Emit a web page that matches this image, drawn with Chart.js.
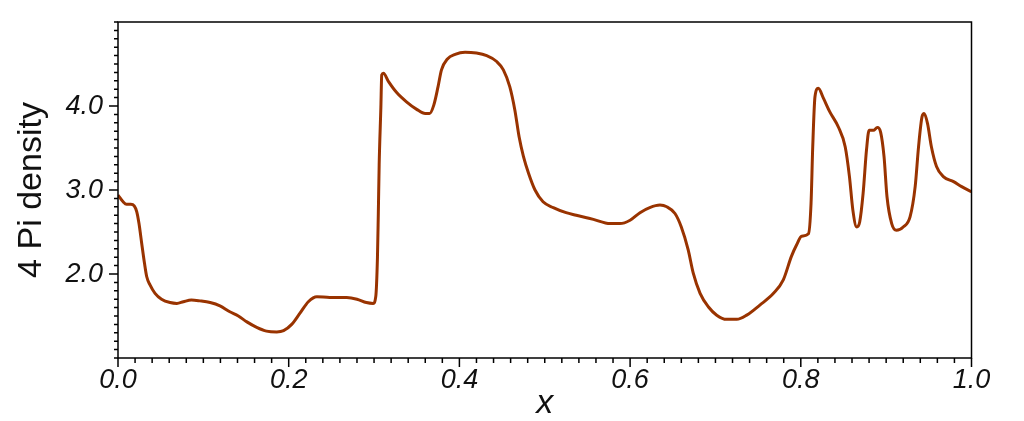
<!DOCTYPE html>
<html lang="en">
<head>
    <meta charset="UTF-8">
    <title>4 Pi density</title>
    <script src="https://cdn.jsdelivr.net/npm/chart.js"></script>
    <style>
        body {
            margin: 0;
            background-color: white;
        }

        .chart-container {
            width: 1024px;
            height: 421px;
        }
    </style>
</head>
<body>
    <div class="chart-container">
        <canvas id="densityChart"></canvas>
    </div>

    <script>
        // Values
        const xValues = [
            0.000, 0.006, 0.010, 0.015, 0.019, 0.022, 0.0246, 0.0277, 0.031, 0.0336,
            0.0375, 0.0434, 0.051, 0.061, 0.069, 0.0766, 0.086, 0.096, 0.108, 0.1195,
            0.131, 0.141, 0.151, 0.1625, 0.174, 0.186, 0.194, 0.2035, 0.213, 0.223,
            0.233, 0.248, 0.268, 0.280, 0.291, 0.299, 0.302, 0.304, 0.305, 0.306,
            0.308, 0.309, 0.311, 0.317, 0.3265, 0.338, 0.350, 0.360, 0.365, 0.370,
            0.375, 0.379, 0.386, 0.395, 0.4066, 0.420, 0.432, 0.4437, 0.4515, 0.459,
            0.465, 0.470, 0.475, 0.481, 0.4886, 0.498, 0.510, 0.525, 0.537, 0.549,
            0.557, 0.5765, 0.588, 0.600, 0.6116, 0.623, 0.635, 0.643, 0.6526, 0.660,
            0.668, 0.674, 0.682, 0.6916, 0.7015, 0.713, 0.725, 0.7366, 0.752, 0.768,
            0.7795, 0.789, 0.795, 0.801, 0.809, 0.812, 0.814, 0.8166, 0.8205, 0.8266,
            0.834, 0.844, 0.852, 0.857, 0.861, 0.8655, 0.869, 0.873, 0.877, 0.880,
            0.885, 0.8897, 0.8935, 0.8975, 0.901, 0.9065, 0.912, 0.920, 0.928, 0.934,
            0.938, 0.942, 0.9445, 0.9485, 0.953, 0.959, 0.967, 0.979, 0.9885, 1.000
        ];
        const densityValues = [
            2.94, 2.86, 2.83, 2.83, 2.81, 2.74, 2.60, 2.37, 2.13, 1.97,
            1.87, 1.77, 1.70, 1.66, 1.65, 1.67, 1.69, 1.68, 1.66, 1.62,
            1.55, 1.50, 1.43, 1.365, 1.32, 1.31, 1.325, 1.40, 1.53, 1.67,
            1.73, 1.72, 1.72, 1.70, 1.66, 1.65, 1.73, 2.20, 2.72, 3.30,
            3.99, 4.37, 4.39, 4.29, 4.16, 4.05, 3.96, 3.91, 3.91, 4.01,
            4.23, 4.43, 4.56, 4.615, 4.64, 4.63, 4.60, 4.53, 4.43, 4.23,
            3.95, 3.63, 3.40, 3.20, 3.00, 2.86, 2.79, 2.73, 2.70, 2.67,
            2.65, 2.60, 2.60, 2.64, 2.73, 2.79, 2.82, 2.80, 2.72, 2.56,
            2.29, 2.01, 1.77, 1.61, 1.51, 1.46, 1.46, 1.51, 1.63, 1.77,
            1.93, 2.21, 2.345, 2.45, 2.48, 2.84, 3.52, 4.11, 4.21, 4.09,
            3.93, 3.75, 3.515, 3.16, 2.76, 2.56, 2.62, 2.96, 3.48, 3.71,
            3.71, 3.745, 3.69, 3.40, 2.92, 2.60, 2.52, 2.56, 2.68, 3.04,
            3.52, 3.87, 3.91, 3.79, 3.515, 3.28, 3.16, 3.10, 3.04, 2.98
        ];
        const yTickLabels = [2, 3, 4];   // only these carry a label
        const xMajorStep = 0.2;
        const xMinorStep = 0.02;
        const yMinorStep = 0.1;

        // Frame round the plot plus the minor / major tick marks
        const frameAndTicks = {
            id: 'frameAndTicks',
            afterDraw(chart) {
                const ctx = chart.ctx;
                const area = chart.chartArea;
                const xs = chart.scales.x;
                const ys = chart.scales.y;
                ctx.save();
                ctx.strokeStyle = 'black';
                ctx.lineWidth = 1.5;
                ctx.strokeRect(area.left, area.top, area.right - area.left, area.bottom - area.top);

                ctx.beginPath();
                for (let i = 0; i <= Math.round(1 / xMinorStep); i++) {
                    const v = i * xMinorStep;
                    const px = xs.getPixelForValue(v);
                    const major = i % Math.round(xMajorStep / xMinorStep) === 0;
                    ctx.moveTo(px, area.bottom);
                    ctx.lineTo(px, area.bottom + (major ? 9 : 5));
                }
                for (let i = 10; i <= 50; i++) {
                    const v = i * yMinorStep;
                    const py = ys.getPixelForValue(v);
                    const major = i % 10 === 0 && yTickLabels.includes(i / 10);
                    ctx.moveTo(area.left, py);
                    ctx.lineTo(area.left - (major ? 9 : 4), py);
                }
                ctx.stroke();
                ctx.restore();
            }
        };

        const ctx = document.getElementById('densityChart').getContext('2d');
        new Chart(ctx, {
            type: 'line',
            data: {
                datasets: [{
                    label: '4 Pi density',
                    data: xValues.map((x, i) => ({ x: x, y: densityValues[i] })),
                    borderColor: '#993300',
                    borderWidth: 3,
                    pointRadius: 0,
                    fill: false,
                    cubicInterpolationMode: 'monotone'
                }]
            },
            options: {
                responsive: true,
                maintainAspectRatio: false,
                animation: false,
                layout: {
                    padding: { left: 0, right: 52.5, top: 22, bottom: 0 }
                },
                plugins: {
                    legend: { display: false },
                    tooltip: { enabled: false }
                },
                scales: {
                    x: {
                        type: 'linear',
                        min: 0,
                        max: 1,
                        grid: { display: false, drawTicks: false },
                        border: { display: false },
                        ticks: {
                            stepSize: xMajorStep,
                            padding: 6,
                            color: '#111',
                            font: { family: 'Liberation Sans', style: 'italic', size: 27 },
                            callback: value => value.toFixed(1)
                        },
                        title: {
                            display: true,
                            text: 'x',
                            color: '#111',
                            padding: 0,
                            font: { family: 'Liberation Sans', style: 'italic', size: 34, lineHeight: 1 }
                        },
                        afterFit: scale => {
                            scale.height = 63;
                            scale.paddingLeft = 0;
                            scale.paddingRight = 0;
                        }
                    },
                    y: {
                        min: 1,
                        max: 5,
                        grid: { display: false, drawTicks: false },
                        border: { display: false },
                        ticks: {
                            stepSize: 1,
                            padding: 15,
                            color: '#111',
                            font: { family: 'Liberation Sans', style: 'italic', size: 27 },
                            callback: value => yTickLabels.includes(value) ? value.toFixed(1) : null
                        },
                        title: {
                            display: true,
                            text: '4 Pi density',
                            color: '#111',
                            padding: { top: 11, bottom: 0 },
                            font: { family: 'Liberation Sans', size: 34 }
                        },
                        afterFit: scale => {
                            scale.width = 118;
                            scale.paddingTop = 0;
                            scale.paddingBottom = 0;
                        }
                    }
                }
            },
            plugins: [frameAndTicks]
        });
    </script>
</body>
</html>
